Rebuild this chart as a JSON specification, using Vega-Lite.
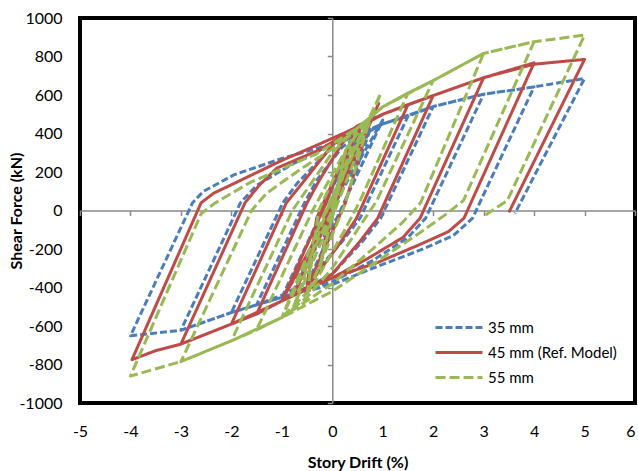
{
"$schema":"https://vega.github.io/schema/vega-lite/v6.json",
"width":555,"height":385,
"autosize":{"type":"none"},
"padding":{"left":80,"top":18,"right":3,"bottom":68},
"config":{"view":{"stroke":"#000000","strokeWidth":4},"font":"Lato"},
"datasets":{"loops":[
{"s":"35 mm","i":1,"d":0,"f":0},{"s":"35 mm","i":2,"d":0.25,"f":280},{"s":"35 mm","i":3,"d":0,"f":-30},{"s":"35 mm","i":4,"d":-0.25,"f":-280},{"s":"35 mm","i":5,"d":0,"f":30},{"s":"35 mm","i":6,"d":0.5,"f":395},{"s":"35 mm","i":7,"d":-0.28,"f":-40},{"s":"35 mm","i":8,"d":-0.5,"f":-380},{"s":"35 mm","i":9,"d":0.25,"f":40},{"s":"35 mm","i":10,"d":0.75,"f":420},{"s":"35 mm","i":11,"d":-0.07,"f":-40},{"s":"35 mm","i":12,"d":-0.75,"f":-410},{"s":"35 mm","i":13,"d":0.05,"f":40},{"s":"35 mm","i":14,"d":1,"f":470},{"s":"35 mm","i":15,"d":0.09,"f":-40},{"s":"35 mm","i":16,"d":-1,"f":-451},{"s":"35 mm","i":17,"d":-0.12,"f":40},{"s":"35 mm","i":18,"d":0.2,"f":250},{"s":"35 mm","i":19,"d":0.6,"f":390},{"s":"35 mm","i":20,"d":1,"f":450},{"s":"35 mm","i":21,"d":1.5,"f":490},{"s":"35 mm","i":22,"d":0.55,"f":-40},{"s":"35 mm","i":23,"d":0.2,"f":-160},{"s":"35 mm","i":24,"d":-0.5,"f":-370},{"s":"35 mm","i":25,"d":-1,"f":-440},{"s":"35 mm","i":26,"d":-1.5,"f":-490},{"s":"35 mm","i":27,"d":-0.55,"f":40},{"s":"35 mm","i":28,"d":-0.3,"f":160},{"s":"35 mm","i":29,"d":0.2,"f":330},{"s":"35 mm","i":30,"d":0.6,"f":400},{"s":"35 mm","i":31,"d":1,"f":450},{"s":"35 mm","i":32,"d":1.5,"f":490},{"s":"35 mm","i":33,"d":2,"f":540},{"s":"35 mm","i":34,"d":0.96,"f":-40},{"s":"35 mm","i":35,"d":0.6,"f":-160},{"s":"35 mm","i":36,"d":0,"f":-330},{"s":"35 mm","i":37,"d":-0.5,"f":-400},{"s":"35 mm","i":38,"d":-1,"f":-451},{"s":"35 mm","i":39,"d":-1.5,"f":-490},{"s":"35 mm","i":40,"d":-2,"f":-530},{"s":"35 mm","i":41,"d":-0.98,"f":40},{"s":"35 mm","i":42,"d":-0.7,"f":140},{"s":"35 mm","i":43,"d":0,"f":330},{"s":"35 mm","i":44,"d":0.5,"f":395},{"s":"35 mm","i":45,"d":1,"f":450},{"s":"35 mm","i":46,"d":1.5,"f":490},{"s":"35 mm","i":47,"d":2,"f":540},{"s":"35 mm","i":48,"d":3,"f":604},{"s":"35 mm","i":49,"d":1.85,"f":-40},{"s":"35 mm","i":50,"d":1.5,"f":-140},{"s":"35 mm","i":51,"d":0.8,"f":-260},{"s":"35 mm","i":52,"d":0,"f":-370},{"s":"35 mm","i":53,"d":-1,"f":-451},{"s":"35 mm","i":54,"d":-2,"f":-530},{"s":"35 mm","i":55,"d":-3,"f":-622},{"s":"35 mm","i":56,"d":-1.82,"f":40},{"s":"35 mm","i":57,"d":-1.5,"f":130},{"s":"35 mm","i":58,"d":-0.8,"f":240},{"s":"35 mm","i":59,"d":0,"f":345},{"s":"35 mm","i":60,"d":0.5,"f":395},{"s":"35 mm","i":61,"d":1,"f":450},{"s":"35 mm","i":62,"d":2,"f":540},{"s":"35 mm","i":63,"d":3,"f":604},{"s":"35 mm","i":64,"d":4,"f":642},{"s":"35 mm","i":65,"d":2.78,"f":-40},{"s":"35 mm","i":66,"d":2.4,"f":-130},{"s":"35 mm","i":67,"d":1.75,"f":-205},{"s":"35 mm","i":68,"d":0.8,"f":-300},{"s":"35 mm","i":69,"d":0,"f":-385},{"s":"35 mm","i":70,"d":-1,"f":-451},{"s":"35 mm","i":71,"d":-2,"f":-530},{"s":"35 mm","i":72,"d":-3,"f":-622},{"s":"35 mm","i":73,"d":-4,"f":-651},{"s":"35 mm","i":74,"d":-2.77,"f":40},{"s":"35 mm","i":75,"d":-2.55,"f":100},{"s":"35 mm","i":76,"d":-1.95,"f":185},{"s":"35 mm","i":77,"d":-1,"f":270},{"s":"35 mm","i":78,"d":0,"f":345},{"s":"35 mm","i":79,"d":0.5,"f":395},{"s":"35 mm","i":80,"d":1,"f":450},{"s":"35 mm","i":81,"d":2,"f":540},{"s":"35 mm","i":82,"d":3,"f":604},{"s":"35 mm","i":83,"d":4,"f":642},{"s":"35 mm","i":84,"d":5,"f":686},{"s":"35 mm","i":85,"d":3.62,"f":-15},
{"s":"45 mm (Ref. Model)","i":1,"d":0,"f":0},{"s":"45 mm (Ref. Model)","i":2,"d":0.25,"f":290},{"s":"45 mm (Ref. Model)","i":3,"d":0,"f":-30},{"s":"45 mm (Ref. Model)","i":4,"d":-0.25,"f":-290},{"s":"45 mm (Ref. Model)","i":5,"d":0,"f":30},{"s":"45 mm (Ref. Model)","i":6,"d":0.5,"f":430},{"s":"45 mm (Ref. Model)","i":7,"d":-0.31,"f":-40},{"s":"45 mm (Ref. Model)","i":8,"d":-0.5,"f":-400},{"s":"45 mm (Ref. Model)","i":9,"d":0.26,"f":40},{"s":"45 mm (Ref. Model)","i":10,"d":0.75,"f":470},{"s":"45 mm (Ref. Model)","i":11,"d":-0.13,"f":-40},{"s":"45 mm (Ref. Model)","i":12,"d":-0.75,"f":-430},{"s":"45 mm (Ref. Model)","i":13,"d":0.06,"f":40},{"s":"45 mm (Ref. Model)","i":14,"d":0.92,"f":556},{"s":"45 mm (Ref. Model)","i":15,"d":-0.11,"f":-40},{"s":"45 mm (Ref. Model)","i":16,"d":-1,"f":-470},{"s":"45 mm (Ref. Model)","i":17,"d":-0.12,"f":40},{"s":"45 mm (Ref. Model)","i":18,"d":0.2,"f":270},{"s":"45 mm (Ref. Model)","i":19,"d":0.6,"f":440},{"s":"45 mm (Ref. Model)","i":20,"d":1,"f":500},{"s":"45 mm (Ref. Model)","i":21,"d":1.5,"f":550},{"s":"45 mm (Ref. Model)","i":22,"d":0.48,"f":-40},{"s":"45 mm (Ref. Model)","i":23,"d":0.15,"f":-170},{"s":"45 mm (Ref. Model)","i":24,"d":-0.5,"f":-400},{"s":"45 mm (Ref. Model)","i":25,"d":-1,"f":-470},{"s":"45 mm (Ref. Model)","i":26,"d":-1.5,"f":-538},{"s":"45 mm (Ref. Model)","i":27,"d":-0.5,"f":40},{"s":"45 mm (Ref. Model)","i":28,"d":-0.25,"f":160},{"s":"45 mm (Ref. Model)","i":29,"d":0.2,"f":350},{"s":"45 mm (Ref. Model)","i":30,"d":0.6,"f":450},{"s":"45 mm (Ref. Model)","i":31,"d":1,"f":500},{"s":"45 mm (Ref. Model)","i":32,"d":1.5,"f":550},{"s":"45 mm (Ref. Model)","i":33,"d":2,"f":597},{"s":"45 mm (Ref. Model)","i":34,"d":0.9,"f":-40},{"s":"45 mm (Ref. Model)","i":35,"d":0.55,"f":-160},{"s":"45 mm (Ref. Model)","i":36,"d":0,"f":-330},{"s":"45 mm (Ref. Model)","i":37,"d":-0.5,"f":-410},{"s":"45 mm (Ref. Model)","i":38,"d":-1,"f":-470},{"s":"45 mm (Ref. Model)","i":39,"d":-1.5,"f":-538},{"s":"45 mm (Ref. Model)","i":40,"d":-2,"f":-590},{"s":"45 mm (Ref. Model)","i":41,"d":-0.91,"f":40},{"s":"45 mm (Ref. Model)","i":42,"d":-0.6,"f":140},{"s":"45 mm (Ref. Model)","i":43,"d":0,"f":340},{"s":"45 mm (Ref. Model)","i":44,"d":0.5,"f":440},{"s":"45 mm (Ref. Model)","i":45,"d":1,"f":500},{"s":"45 mm (Ref. Model)","i":46,"d":1.5,"f":550},{"s":"45 mm (Ref. Model)","i":47,"d":2,"f":597},{"s":"45 mm (Ref. Model)","i":48,"d":3,"f":690},{"s":"45 mm (Ref. Model)","i":49,"d":1.74,"f":-40},{"s":"45 mm (Ref. Model)","i":50,"d":1.4,"f":-140},{"s":"45 mm (Ref. Model)","i":51,"d":0.7,"f":-250},{"s":"45 mm (Ref. Model)","i":52,"d":0,"f":-350},{"s":"45 mm (Ref. Model)","i":53,"d":-1,"f":-470},{"s":"45 mm (Ref. Model)","i":54,"d":-2,"f":-590},{"s":"45 mm (Ref. Model)","i":55,"d":-3,"f":-694},{"s":"45 mm (Ref. Model)","i":56,"d":-1.73,"f":40},{"s":"45 mm (Ref. Model)","i":57,"d":-1.45,"f":130},{"s":"45 mm (Ref. Model)","i":58,"d":-1.1,"f":220},{"s":"45 mm (Ref. Model)","i":59,"d":-0.3,"f":310},{"s":"45 mm (Ref. Model)","i":60,"d":0.3,"f":400},{"s":"45 mm (Ref. Model)","i":61,"d":1,"f":500},{"s":"45 mm (Ref. Model)","i":62,"d":2,"f":597},{"s":"45 mm (Ref. Model)","i":63,"d":3,"f":690},{"s":"45 mm (Ref. Model)","i":64,"d":4,"f":767},{"s":"45 mm (Ref. Model)","i":65,"d":2.61,"f":-40},{"s":"45 mm (Ref. Model)","i":66,"d":2.3,"f":-110},{"s":"45 mm (Ref. Model)","i":67,"d":1.75,"f":-175},{"s":"45 mm (Ref. Model)","i":68,"d":0.9,"f":-270},{"s":"45 mm (Ref. Model)","i":69,"d":0,"f":-350},{"s":"45 mm (Ref. Model)","i":70,"d":-1,"f":-470},{"s":"45 mm (Ref. Model)","i":71,"d":-2,"f":-590},{"s":"45 mm (Ref. Model)","i":72,"d":-3,"f":-694},{"s":"45 mm (Ref. Model)","i":73,"d":-3.5,"f":-728},{"s":"45 mm (Ref. Model)","i":74,"d":-3.97,"f":-775},{"s":"45 mm (Ref. Model)","i":75,"d":-2.6,"f":40},{"s":"45 mm (Ref. Model)","i":76,"d":-2.35,"f":90},{"s":"45 mm (Ref. Model)","i":77,"d":-1.95,"f":140},{"s":"45 mm (Ref. Model)","i":78,"d":-1,"f":260},{"s":"45 mm (Ref. Model)","i":79,"d":-0.3,"f":340},{"s":"45 mm (Ref. Model)","i":80,"d":0.3,"f":410},{"s":"45 mm (Ref. Model)","i":81,"d":1,"f":500},{"s":"45 mm (Ref. Model)","i":82,"d":2,"f":597},{"s":"45 mm (Ref. Model)","i":83,"d":3,"f":690},{"s":"45 mm (Ref. Model)","i":84,"d":4,"f":760},{"s":"45 mm (Ref. Model)","i":85,"d":5,"f":785},{"s":"45 mm (Ref. Model)","i":86,"d":3.5,"f":-10},
{"s":"55 mm","i":1,"d":0,"f":0},{"s":"55 mm","i":2,"d":0.25,"f":300},{"s":"55 mm","i":3,"d":0,"f":-30},{"s":"55 mm","i":4,"d":-0.25,"f":-300},{"s":"55 mm","i":5,"d":0,"f":30},{"s":"55 mm","i":6,"d":0.5,"f":430},{"s":"55 mm","i":7,"d":-0.27,"f":0},{"s":"55 mm","i":8,"d":-0.5,"f":-440},{"s":"55 mm","i":9,"d":0.25,"f":30},{"s":"55 mm","i":10,"d":0.75,"f":480},{"s":"55 mm","i":11,"d":-0.11,"f":0},{"s":"55 mm","i":12,"d":-0.75,"f":-490},{"s":"55 mm","i":13,"d":0.05,"f":0},{"s":"55 mm","i":14,"d":0.96,"f":608},{"s":"55 mm","i":15,"d":-0.13,"f":0},{"s":"55 mm","i":16,"d":-1,"f":-556},{"s":"55 mm","i":17,"d":0,"f":0},{"s":"55 mm","i":18,"d":0.3,"f":250},{"s":"55 mm","i":19,"d":0.7,"f":470},{"s":"55 mm","i":20,"d":1,"f":538},{"s":"55 mm","i":21,"d":1.5,"f":610},{"s":"55 mm","i":22,"d":0.55,"f":50},{"s":"55 mm","i":23,"d":0.25,"f":-100},{"s":"55 mm","i":24,"d":-0.4,"f":-400},{"s":"55 mm","i":25,"d":-1,"f":-556},{"s":"55 mm","i":26,"d":-1.5,"f":-620},{"s":"55 mm","i":27,"d":-0.39,"f":0},{"s":"55 mm","i":28,"d":-0.1,"f":140},{"s":"55 mm","i":29,"d":0.3,"f":330},{"s":"55 mm","i":30,"d":0.7,"f":470},{"s":"55 mm","i":31,"d":1,"f":538},{"s":"55 mm","i":32,"d":1.5,"f":610},{"s":"55 mm","i":33,"d":2,"f":675},{"s":"55 mm","i":34,"d":0.88,"f":50},{"s":"55 mm","i":35,"d":0.55,"f":-80},{"s":"55 mm","i":36,"d":0,"f":-300},{"s":"55 mm","i":37,"d":-0.5,"f":-450},{"s":"55 mm","i":38,"d":-1,"f":-556},{"s":"55 mm","i":39,"d":-1.5,"f":-620},{"s":"55 mm","i":40,"d":-2,"f":-677},{"s":"55 mm","i":41,"d":-0.79,"f":0},{"s":"55 mm","i":42,"d":-0.5,"f":110},{"s":"55 mm","i":43,"d":0,"f":300},{"s":"55 mm","i":44,"d":0.5,"f":430},{"s":"55 mm","i":45,"d":1,"f":538},{"s":"55 mm","i":46,"d":1.5,"f":610},{"s":"55 mm","i":47,"d":2,"f":675},{"s":"55 mm","i":48,"d":3,"f":816},{"s":"55 mm","i":49,"d":1.75,"f":40},{"s":"55 mm","i":50,"d":1.4,"f":-60},{"s":"55 mm","i":51,"d":0.8,"f":-200},{"s":"55 mm","i":52,"d":0,"f":-380},{"s":"55 mm","i":53,"d":-1,"f":-556},{"s":"55 mm","i":54,"d":-2,"f":-677},{"s":"55 mm","i":55,"d":-3,"f":-785},{"s":"55 mm","i":56,"d":-1.6,"f":0},{"s":"55 mm","i":57,"d":-1.3,"f":90},{"s":"55 mm","i":58,"d":-0.6,"f":220},{"s":"55 mm","i":59,"d":0,"f":320},{"s":"55 mm","i":60,"d":0.5,"f":430},{"s":"55 mm","i":61,"d":1,"f":538},{"s":"55 mm","i":62,"d":2,"f":675},{"s":"55 mm","i":63,"d":3,"f":816},{"s":"55 mm","i":64,"d":4,"f":877},{"s":"55 mm","i":65,"d":2.6,"f":52},{"s":"55 mm","i":66,"d":2.25,"f":-20},{"s":"55 mm","i":67,"d":1.75,"f":-113},{"s":"55 mm","i":68,"d":0.8,"f":-280},{"s":"55 mm","i":69,"d":0,"f":-420},{"s":"55 mm","i":70,"d":-1,"f":-556},{"s":"55 mm","i":71,"d":-2,"f":-677},{"s":"55 mm","i":72,"d":-3,"f":-785},{"s":"55 mm","i":73,"d":-4,"f":-860},{"s":"55 mm","i":74,"d":-2.6,"f":-17},{"s":"55 mm","i":75,"d":-2.34,"f":36},{"s":"55 mm","i":76,"d":-1.62,"f":147},{"s":"55 mm","i":77,"d":-0.3,"f":296},{"s":"55 mm","i":78,"d":0.5,"f":430},{"s":"55 mm","i":79,"d":1,"f":538},{"s":"55 mm","i":80,"d":2,"f":675},{"s":"55 mm","i":81,"d":3,"f":816},{"s":"55 mm","i":82,"d":4,"f":877},{"s":"55 mm","i":83,"d":5,"f":911},{"s":"55 mm","i":84,"d":3.47,"f":52},{"s":"55 mm","i":85,"d":3.0,"f":-30}
]},
"resolve":{"axis":{"x":"independent","y":"independent"}},
"layer":[
{"data":{"values":[{"z":0}]},
 "mark":{"type":"point","opacity":0},
 "encoding":{
  "x":{"field":"z","type":"quantitative","scale":{"domain":[-5,6],"nice":false,"zero":false},
   "axis":{"orient":"bottom","offset":-192.5,"values":[-5,-4,-3,-2,-1,0,1,2,3,4,5,6],"labels":false,"grid":false,"title":null,"domain":true,"domainColor":"#8a8a8a","domainWidth":1.5,"ticks":true,"tickColor":"#8a8a8a","tickWidth":1.5,"tickSize":5}},
  "y":{"field":"z","type":"quantitative","scale":{"domain":[-1000,1000],"nice":false,"zero":false},
   "axis":{"orient":"left","offset":-252.3,"values":[-1000,-800,-600,-400,-200,0,200,400,600,800,1000],"labels":false,"grid":false,"title":null,"domain":true,"domainColor":"#8a8a8a","domainWidth":1.5,"ticks":true,"tickColor":"#8a8a8a","tickWidth":1.5,"tickSize":5}}
 }},
{"data":{"name":"loops"},
 "mark":{"type":"line","strokeWidth":3,"strokeJoin":"round"},
 "encoding":{
  "x":{"field":"d","type":"quantitative","scale":{"domain":[-5,6],"nice":false,"zero":false},
   "axis":{"orient":"bottom","values":[-5,-4,-3,-2,-1,0,1,2,3,4,5,6],"labelExpr":"'' + datum.value","labelFlush":false,"labelAlign":{"condition":{"test":"datum.value == 6","value":"right"},"value":"center"},"domain":false,"ticks":false,"grid":false,"labelFontSize":16,"labelColor":"#000","labelPadding":20,"title":"Story Drift (%)","titleFontSize":16,"titleFontWeight":"bold","titleColor":"#000","titleX":277.5,"titleY":59,"titleBaseline":"middle"}},
  "y":{"field":"f","type":"quantitative","scale":{"domain":[-1000,1000],"nice":false,"zero":false},
   "axis":{"orient":"left","values":[-1000,-800,-600,-400,-200,0,200,400,600,800,1000],"labelExpr":"'' + datum.value","labelFlush":false,"domain":false,"ticks":false,"grid":false,"labelFontSize":16,"labelColor":"#000","labelPadding":18,"title":"Shear Force (kN)","titleFontSize":16,"titleFontWeight":"bold","titleColor":"#000","titleX":-64,"titleY":192.5,"titleAngle":-90,"titleBaseline":"middle"}},
  "order":{"field":"i","type":"quantitative"},
  "color":{"field":"s","type":"nominal","scale":{"domain":["35 mm","45 mm (Ref. Model)","55 mm"],"range":["#4A7EBB","#BE4B48","#98B954"]},
   "legend":{"title":null,"orient":"none","legendX":354,"legendY":297,"symbolType":"stroke","symbolSize":2209,"symbolStrokeWidth":3,"clipHeight":25,"labelFontSize":15,"labelColor":"#000","labelOffset":4,"rowPadding":0}},
  "strokeDash":{"field":"s","type":"nominal","scale":{"domain":["35 mm","45 mm (Ref. Model)","55 mm"],"range":[[7,3],[1,0],[10,4]]},
   "legend":{"title":null,"orient":"none","legendX":354,"legendY":297,"symbolType":"stroke","symbolSize":2209,"symbolStrokeWidth":3,"clipHeight":25,"labelFontSize":15,"labelColor":"#000","labelOffset":4,"rowPadding":0}}
 }}
]
}
